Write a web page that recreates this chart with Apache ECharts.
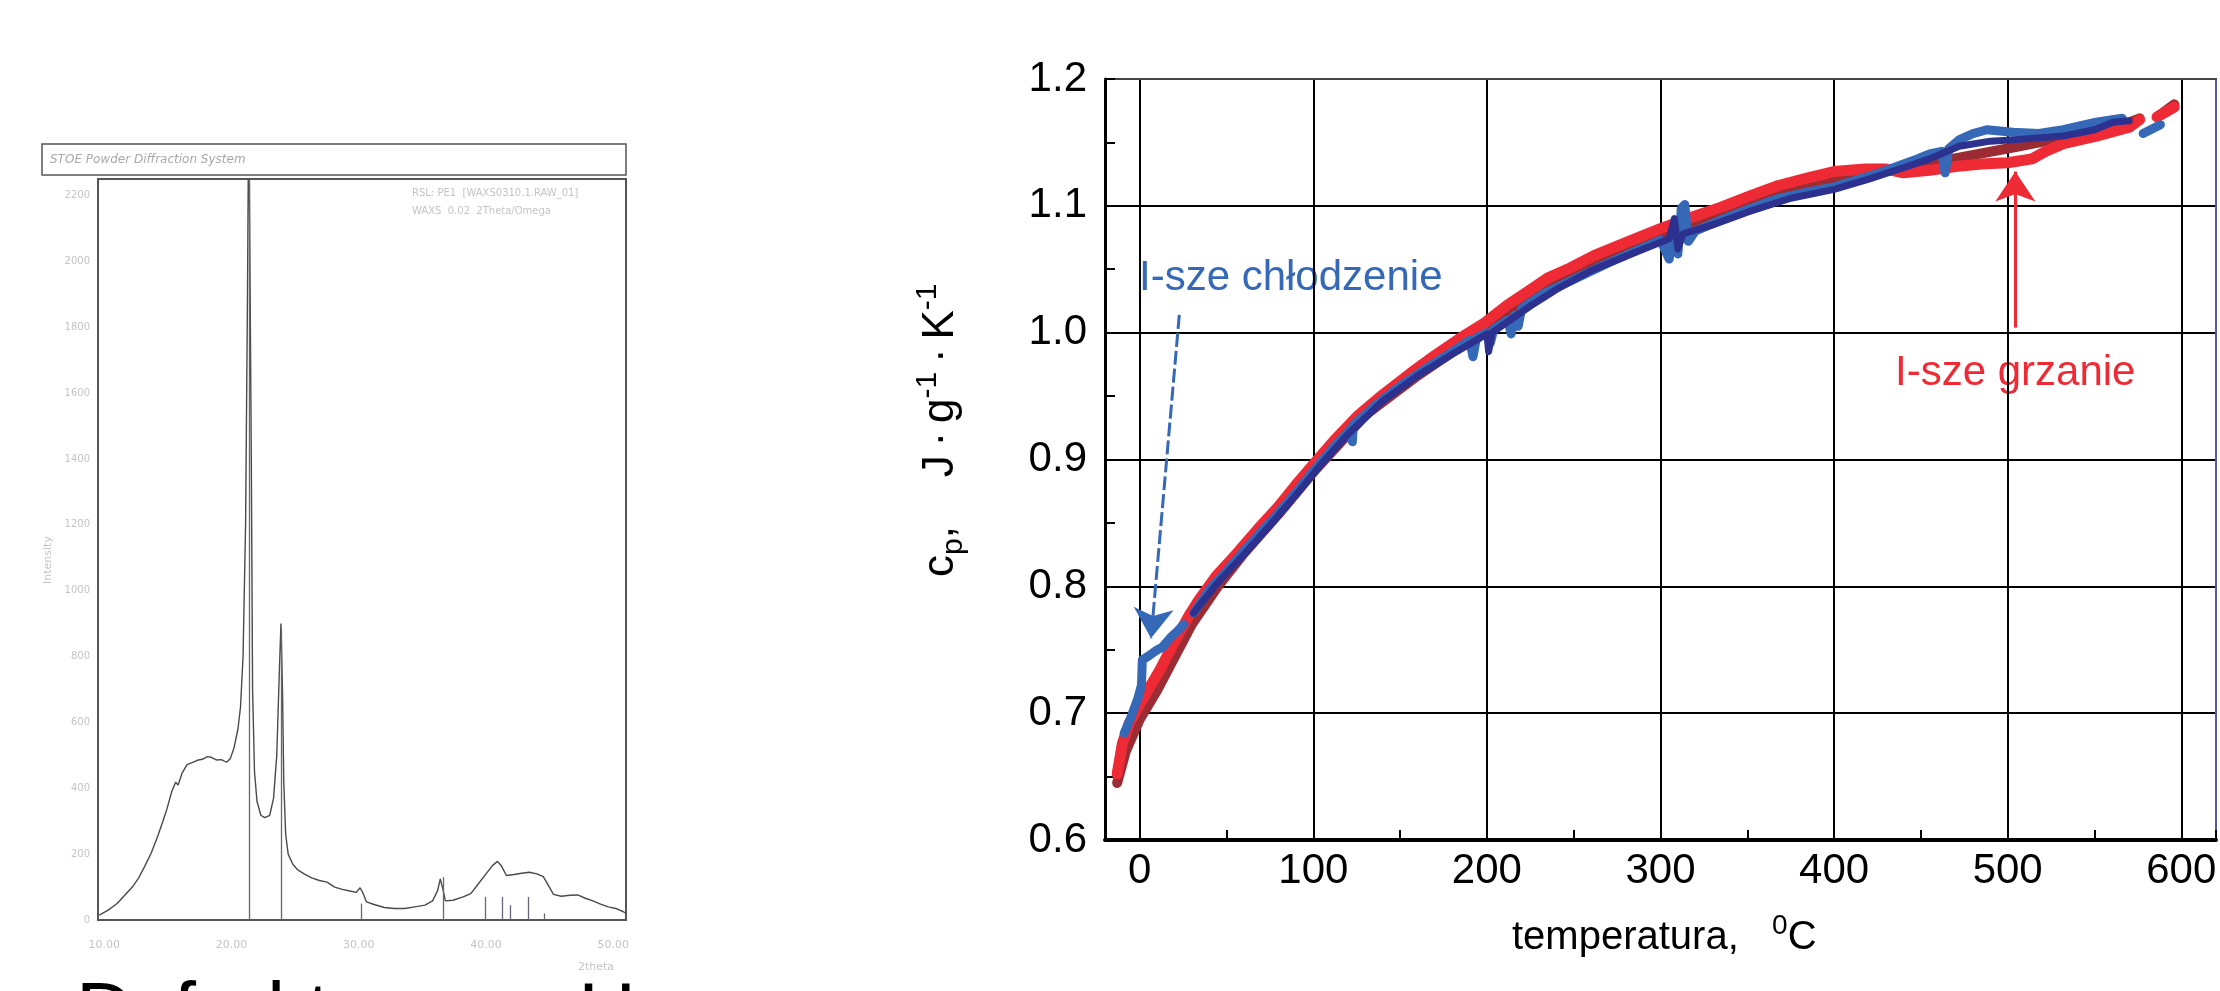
<!DOCTYPE html>
<html>
<head>
<meta charset="utf-8">
<script src="https://cdn.jsdelivr.net/npm/echarts@6/dist/echarts.min.js"></script>
<style>
  html, body { margin: 0; padding: 0; background: #fff; }
  #main { width: 2220px; height: 991px; }
</style>
</head>
<body>
<div id="main"></div>
<script>
// dyfraktogram (lewy panel): [2theta, intensywnosc]
const xrdPoints = [
  [9.6, 15], [10.3, 30], [11.0, 50], [11.6, 75], [12.2, 100], [12.7, 128], [13.2, 165],
  [13.7, 205], [14.2, 255], [14.6, 300], [14.9, 335], [15.3, 390], [15.6, 418], [15.8, 410],
  [16.1, 445], [16.5, 472], [16.9, 478], [17.3, 485], [17.7, 488], [18.1, 496], [18.4, 494],
  [18.8, 486], [19.2, 487], [19.6, 479], [19.9, 490], [20.2, 524], [20.5, 580], [20.7, 646],
  [20.9, 800], [21.1, 1200], [21.25, 1900], [21.35, 2500], [21.45, 2500], [21.55, 1400],
  [21.65, 700], [21.8, 450], [22.0, 360], [22.3, 318], [22.6, 311], [23.0, 318], [23.3, 370],
  [23.55, 500], [23.75, 750], [23.88, 900], [24.0, 700], [24.1, 420], [24.25, 260], [24.45, 200],
  [24.8, 170], [25.2, 152], [25.7, 140], [26.3, 128], [26.9, 120], [27.5, 115], [28.1, 100],
  [28.7, 93], [29.3, 88], [29.8, 84], [30.1, 98], [30.35, 80], [30.6, 55], [31.2, 47], [32.0, 38],
  [32.8, 35], [33.6, 35], [34.4, 40], [35.2, 45], [35.8, 58], [36.2, 90], [36.4, 125], [36.6, 95],
  [36.8, 58], [37.4, 60], [38.2, 70], [38.8, 80], [39.4, 110], [40.0, 140], [40.5, 165], [40.9, 178],
  [41.2, 165], [41.6, 135], [42.2, 138], [42.8, 142], [43.4, 145], [44.0, 140], [44.5, 132],
  [44.9, 105], [45.3, 78], [45.9, 72], [46.6, 75], [47.2, 76], [47.8, 66], [48.4, 58], [49.0, 48],
  [49.6, 40], [50.2, 35], [50.8, 25], [51.0, 20]
];
const xrdStickPos = [21.4, 23.9, 30.2, 36.6, 39.9, 41.3, 41.9, 43.3, 44.6];
const xrdStickHeight = [2250, 880, 50, 130, 70, 70, 45, 70, 20];
const xrdXLabels = [10, 20, 30, 40, 50];

// cp(T) (prawy panel): [temperatura, cp]
const heatDark = [
  [-13, 0.645], [-8, 0.670], [0, 0.695], [10, 0.718], [20, 0.744], [30, 0.770], [45, 0.800],
  [60, 0.826], [80, 0.857], [100, 0.890], [130, 0.935], [160, 0.966], [190, 0.994], [215, 1.018],
  [240, 1.040], [270, 1.060], [300, 1.077], [320, 1.088], [350, 1.102], [380, 1.115], [410, 1.124],
  [440, 1.130], [472, 1.138], [503, 1.146], [522, 1.151], [545, 1.156], [561, 1.161], [576, 1.169],
  [580, '-'], [588, 1.172], [596, 1.180]
];
const heatRed = [
  [-13, 0.652], [-10, 0.676], [-6, 0.692], [0, 0.707], [6, 0.721], [12, 0.735], [18, 0.751],
  [24, 0.766], [28, 0.776], [34, 0.789], [44, 0.808], [56, 0.826], [68, 0.845], [80, 0.863],
  [90, 0.880], [100, 0.896], [112, 0.915], [126, 0.935], [140, 0.951], [156, 0.968], [170, 0.982],
  [185, 0.996], [198, 1.007], [212, 1.022], [222, 1.031], [235, 1.043], [248, 1.051], [262, 1.061],
  [280, 1.071], [300, 1.082], [318, 1.091], [335, 1.099], [352, 1.108], [368, 1.116], [385, 1.122],
  [400, 1.127], [418, 1.129], [430, 1.129], [440, 1.126], [455, 1.128], [470, 1.131], [485, 1.133],
  [500, 1.134], [514, 1.137], [522, 1.143], [532, 1.149], [551, 1.155], [570, 1.162], [576, 1.168],
  [580, '-'], [586, 1.170], [596, 1.178]
];
const coolBlue = [
  [-9, 0.684], [-5, 0.697], [-1, 0.712], [1, 0.722], [1.5, 0.742], [5, 0.745], [9, 0.749],
  [13, 0.752], [18, 0.760], [22, 0.765], [25.5, 0.770], [28, '-'], [31, 0.779], [40, 0.797],
  [50, 0.812], [60, 0.828], [72, 0.846], [80, 0.858], [90, 0.874], [100, 0.891], [110, 0.907],
  [122, 0.925], [122.5, 0.914], [123, 0.927], [135, 0.942], [150, 0.958], [165, 0.972], [180, 0.985],
  [190, 0.994], [192, 0.981], [194, 0.996], [200, 1.000], [202, 0.992], [204, 1.003], [212, 1.010],
  [214, 0.999], [216, 1.014], [218, 1.005], [220, 1.019], [233, 1.031], [250, 1.042], [270, 1.055],
  [290, 1.067], [300, 1.073], [305, 1.058], [307, 1.080], [310, 1.062], [312, 1.098], [314, 1.101],
  [316, 1.072], [320, 1.080], [335, 1.089], [350, 1.097], [366, 1.105], [385, 1.111], [400, 1.115],
  [424, 1.125], [436, 1.131], [448, 1.137], [455, 1.141], [462, 1.143], [464, 1.126], [466, 1.145],
  [472, 1.152], [480, 1.157], [488, 1.160], [503, 1.158], [518, 1.157], [532, 1.160], [551, 1.166],
  [566, 1.169], [572, '-'], [578, 1.157], [588, 1.164]
];
const coolNavy = [
  [31, 0.779], [45, 0.803], [60, 0.825], [75, 0.848], [90, 0.872], [105, 0.897], [120, 0.920],
  [140, 0.946], [160, 0.966], [180, 0.983], [200, 0.999], [201, 0.985], [203, 1.000], [225, 1.021],
  [240, 1.034], [260, 1.049], [285, 1.063], [305, 1.074], [308, 1.090], [310, 1.066], [313, 1.078],
  [330, 1.085], [350, 1.095], [375, 1.106], [400, 1.113], [420, 1.121], [440, 1.130], [455, 1.137],
  [472, 1.147], [490, 1.151], [503, 1.152], [532, 1.155], [550, 1.160], [561, 1.166], [570, 1.167]
];
// strzalki opisow
const coolArrow = [[22.8, 1.014], [6.5, 0.759]];
const heatArrow = [[504.4, 1.004], [504.4, 1.127]];

const FONT = '"Liberation Sans", Arial, sans-serif';
const faint = '#c4c4c4';
const THIN = '\u2009';

var chartDom = document.getElementById('main');
var myChart = echarts.init(chartDom);
var option;

option = {
  animation: false,
  backgroundColor: '#fff',
  grid: [
    { left: 98, top: 179, right: 1594, bottom: 71, show: true, borderColor: '#555', borderWidth: 2 },
    { left: 1105, top: 79, right: 4, bottom: 151, show: true, borderColor: '#333', borderWidth: 2 }
  ],
  xAxis: [
    {
      gridIndex: 0, type: 'value', min: 9.5, max: 51,
      axisLine: { onZero: false, lineStyle: { color: '#555', width: 2 } },
      axisTick: { show: false },
      splitLine: { show: false },
      axisLabel: {
        customValues: xrdXLabels, color: faint, fontSize: 11, margin: 20,
        fontFamily: 'DejaVu Sans', formatter: v => v.toFixed(2)
      }
    },
    {
      gridIndex: 1, type: 'value', min: -20, max: 620, splitNumber: 6,
      axisLine: { onZero: false, lineStyle: { color: '#000', width: 4 } },
      axisTick: { inside: true, length: 10, lineStyle: { color: '#000', width: 2 } },
      minorTick: { show: true, splitNumber: 2, length: 10, lineStyle: { color: '#000', width: 2 } },
      splitLine: { show: true, lineStyle: { color: '#000', width: 2 } },
      axisLabel: {
        color: '#000', fontSize: 42, fontFamily: FONT, margin: 10,
        showMinLabel: false, showMaxLabel: false
      }
    },
    {
      gridIndex: 1, type: 'value', min: -20, max: 620, position: 'top',
      axisLine: { onZero: false, lineStyle: { color: '#444', width: 2 } },
      axisTick: { show: false }, axisLabel: { show: false }, splitLine: { show: false }
    }
  ],
  yAxis: [
    {
      gridIndex: 0, type: 'value', min: 0, max: 2250, interval: 200,
      axisLine: { show: true, onZero: false, lineStyle: { color: '#555', width: 2 } },
      axisTick: { show: false },
      splitLine: { show: false },
      axisLabel: {
        color: faint, fontSize: 10, margin: 8, fontFamily: 'DejaVu Sans',
        showMaxLabel: false, formatter: v => String(v)
      }
    },
    {
      gridIndex: 1, type: 'value', min: 0.6, max: 1.2, interval: 0.1,
      axisLine: { show: true, onZero: false, lineStyle: { color: '#000', width: 3 } },
      axisTick: { show: true, inside: true, length: 10, lineStyle: { color: '#000', width: 2 } },
      minorTick: { show: true, splitNumber: 2, length: 10, lineStyle: { color: '#000', width: 2 } },
      splitLine: { show: true, lineStyle: { color: '#000', width: 2 } },
      axisLabel: { color: '#000', fontSize: 42, fontFamily: FONT, margin: 18, formatter: v => v.toFixed(1) }
    },
    {
      gridIndex: 1, type: 'value', min: 0.6, max: 1.2, position: 'right',
      axisLine: { show: true, onZero: false, lineStyle: { color: '#5458ad', width: 2 } },
      axisTick: { show: false }, axisLabel: { show: false }, splitLine: { show: false }
    }
  ],
  series: [
    {
      name: 'dyfraktogram', type: 'line', xAxisIndex: 0, yAxisIndex: 0,
      data: xrdPoints, showSymbol: false, symbol: 'none',
      lineStyle: { color: '#4a4a4a', width: 1.4 },
      markLine: {
        silent: true, symbol: ['none', 'none'], label: { show: false }, animation: false,
        lineStyle: { color: '#66667a', width: 1.3, type: 'solid' },
        data: xrdStickPos.map((x, i) => [{ coord: [x, 0] }, { coord: [x, xrdStickHeight[i]] }])
      }
    },
    {
      name: 'grzanie-tlo', type: 'line', xAxisIndex: 1, yAxisIndex: 1,
      data: heatDark, showSymbol: false, symbol: 'none',
      lineStyle: { color: '#9b2c33', width: 10, cap: 'round', join: 'round' }
    },
    {
      name: 'I-sze grzanie', type: 'line', xAxisIndex: 1, yAxisIndex: 1,
      data: heatRed, showSymbol: false, symbol: 'none',
      lineStyle: { color: '#ee2a35', width: 11, cap: 'round', join: 'round' },
      markLine: {
        silent: true, symbol: ['none', 'arrow'], symbolSize: 30, label: { show: false }, animation: false,
        lineStyle: { color: '#ee2a35', width: 3, type: 'solid' },
        data: [[{ coord: heatArrow[0] }, { coord: heatArrow[1] }]]
      }
    },
    {
      name: 'I-sze chłodzenie', type: 'line', xAxisIndex: 1, yAxisIndex: 1,
      data: coolBlue, showSymbol: false, symbol: 'none',
      lineStyle: { color: '#3568b6', width: 9, cap: 'round', join: 'round' },
      markLine: {
        silent: true, symbol: ['none', 'arrow'], symbolSize: 30, label: { show: false }, animation: false,
        lineStyle: { color: '#3568b6', width: 3, type: [14, 4] },
        data: [[{ coord: coolArrow[0] }, { coord: coolArrow[1] }]]
      }
    },
    {
      name: 'chlodzenie-rdzen', type: 'line', xAxisIndex: 1, yAxisIndex: 1,
      data: coolNavy, showSymbol: false, symbol: 'none',
      lineStyle: { color: '#2c3190', width: 7, cap: 'round', join: 'round' }
    }
  ],
  graphic: [
    // ramka tytulu dyfraktogramu
    { type: 'rect', shape: { x: 42, y: 144, width: 584, height: 31 }, style: { fill: '#fff', stroke: '#555', lineWidth: 1.5 } },
    { type: 'text', x: 50, y: 160, style: { text: 'STOE Powder Diffraction System', font: 'italic 12px "DejaVu Sans"', fill: '#a8a8a8', verticalAlign: 'middle' } },
    { type: 'text', x: 412, y: 193, style: { text: 'RSL: PE1  [WAXS0310.1.RAW_01]', font: '10px "DejaVu Sans"', fill: faint, verticalAlign: 'middle' } },
    { type: 'text', x: 412, y: 211, style: { text: 'WAXS  0.02  2Theta/Omega', font: '10px "DejaVu Sans"', fill: faint, verticalAlign: 'middle' } },
    { type: 'text', x: 48, y: 560, rotation: Math.PI / 2, style: { text: 'Intensity', font: '11px "DejaVu Sans"', fill: faint, align: 'center', verticalAlign: 'middle' } },
    { type: 'text', x: 596, y: 967, style: { text: '2theta', font: '11px "DejaVu Sans"', fill: faint, align: 'center', verticalAlign: 'middle' } },
    // podpis pod obrazkiem, przysloniety przez prawy wykres
    { type: 'text', x: 76, y: 976, style: { text: 'Dyfraktogram HDPE', font: '80px ' + FONT, fill: '#000', verticalAlign: 'top' } },
    { type: 'rect', z: 100, shape: { x: 630, y: 940, width: 380, height: 51 }, style: { fill: '#fff' } },
    // opis osi prawego wykresu
    {
      type: 'text', x: 941, y: 577, rotation: Math.PI / 2,
      style: {
        text: '{n|c}{sub|p}{n|,    J' + THIN + '·' + THIN + 'g}{sup|-1}{n|' + THIN + '·' + THIN + 'K}{sup|-1}',
        align: 'left', verticalAlign: 'middle',
        rich: {
          n: { fontSize: 44, fontFamily: FONT, fill: '#000', lineHeight: 56 },
          sub: { fontSize: 30, fontFamily: FONT, fill: '#000', lineHeight: 30, verticalAlign: 'bottom' },
          sup: { fontSize: 30, fontFamily: FONT, fill: '#000', lineHeight: 30, verticalAlign: 'top' }
        }
      }
    },
    {
      type: 'text', x: 1512, y: 938,
      style: {
        text: '{n|temperatura,   }{sup|0}{n|C}',
        align: 'left', verticalAlign: 'middle',
        rich: {
          n: { fontSize: 40, fontFamily: FONT, fill: '#000', lineHeight: 52 },
          sup: { fontSize: 28, fontFamily: FONT, fill: '#000', lineHeight: 28, verticalAlign: 'top' }
        }
      }
    },
    // opisy krzywych
    { type: 'text', x: 1139, y: 278, style: { text: 'I-sze chłodzenie', font: '42px ' + FONT, fill: '#3568b6', verticalAlign: 'middle' } },
    { type: 'text', x: 1895, y: 373, style: { text: 'I-sze grzanie', font: '42px ' + FONT, fill: '#ee2a35', verticalAlign: 'middle' } }
  ]
};
option && myChart.setOption(option);
</script>
</body>
</html>
